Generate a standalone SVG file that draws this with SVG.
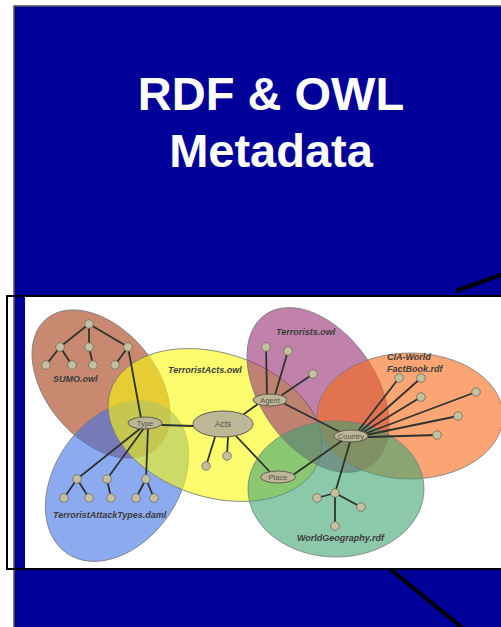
<svg xmlns="http://www.w3.org/2000/svg" width="501" height="627" viewBox="0 0 501 627">
<style>
.title{font-family:"Liberation Sans",Arial,sans-serif;font-weight:bold;font-size:47px;fill:#fff;text-anchor:middle}
.onto{stroke:#7a7a7a;stroke-width:0.8;fill-opacity:0.6}
.olab{font-family:"Liberation Sans",Arial,sans-serif;font-weight:bold;font-style:italic;font-size:9px;fill:#3c3c3c}
.edge{stroke:#2e332e;stroke-width:1.8;fill:none;stroke-linecap:round}
.leaf{fill:#c4bf9f;stroke:#6e6e5e;stroke-width:0.8}
.cls{fill:#bdb795;stroke:#5e5e50;stroke-width:1}
.clab{font-family:"Liberation Sans",Arial,sans-serif;font-size:7.5px;fill:#555;text-anchor:middle}
.thick{stroke:#000;stroke-width:4;fill:none}
</style>
<defs>
<clipPath id="img"><rect x="25" y="297" width="476" height="272"/></clipPath>
</defs>
<rect x="0" y="0" width="501" height="627" fill="#fff"/>
<g id="slide">
<rect x="14" y="6" width="500" height="640" fill="#000099" stroke="#555" stroke-width="1.5"/>
<text class="title" x="271" y="110">RDF &amp; OWL</text>
<text class="title" x="271" y="167">Metadata</text>
<line class="thick" x1="456" y1="291" x2="506" y2="273"/>
<line class="thick" x1="390" y1="569" x2="465" y2="630"/>
</g>
<g id="picture">
<rect x="7" y="296" width="500" height="273" fill="none" stroke="#000" stroke-width="2"/>
<rect x="25" y="297" width="476" height="271" fill="#fff"/>
<g clip-path="url(#img)">
<g id="sumo"><ellipse class="onto" cx="101" cy="384" rx="85" ry="55" transform="rotate(50 101 384)" fill="#a33a11"/><text class="olab" x="53" y="382">SUMO.owl</text></g>
<g id="tat"><ellipse class="onto" cx="117" cy="481" rx="88" ry="62" transform="rotate(-55 117 481)" fill="#3f71e6"/><text class="olab" x="53" y="518">TerroristAttackTypes.daml</text></g>
<g id="tacts"><ellipse class="onto" cx="215" cy="425" rx="110" ry="72" transform="rotate(18 215 425)" fill="#fafa0d"/><text class="olab" x="168" y="373">TerroristActs.owl</text></g>
<g id="terrorists"><ellipse class="onto" cx="318" cy="390" rx="92" ry="58" transform="rotate(55 318 390)" fill="#962f71"/><text class="olab" x="276" y="335">Terrorists.owl</text></g>
<g id="cia"><ellipse class="onto" cx="410" cy="416" rx="93" ry="63" fill="#f76916"/><text class="olab" x="387" y="360">CIA-World</text><text class="olab" x="387" y="372">FactBook.rdf</text></g>
<g id="wgeo"><ellipse class="onto" cx="336" cy="489" rx="88" ry="68" fill="#3fa371"/><text class="olab" x="297" y="541">WorldGeography.rdf</text></g>
<g id="connectors">
<path class="edge" d="M89 324L60 347M89 324L89 347M89 324L128 347M60 347L46 365M60 347L72 365M89 347L93 365M128 347L115 365M128 347L141 418"/>
<path class="edge" d="M141 428L77 479M144 428L107 479M148 428L146 479M77 479L64 498M77 479L89 498M107 479L111 498M146 479L136 498M146 479L154 498"/>
<path class="edge" d="M162 425L193 426M215 437L206 466M228 437L227 456M236 436L270 472M244 414L258 404"/>
<path class="edge" d="M267 395L266 347M275 395L288 351M282 395L313 374M285 404L342 433"/>
<path class="edge" d="M358 431L399 378M360 432L421 378M362 433L421 397M364 434L476 392M366 435L458 416M368 437L437 435"/>
<path class="edge" d="M343 440L293 475M350 442L335 493M335 493L317 498M335 493L361 507M335 493L335 526"/>
</g>
<g id="sumo-tree"><circle class="leaf" cx="89" cy="324" r="4.3"/><circle class="leaf" cx="60" cy="347" r="4.3"/><circle class="leaf" cx="89" cy="347" r="4.3"/><circle class="leaf" cx="128" cy="347" r="4.3"/><circle class="leaf" cx="46" cy="365" r="4.3"/><circle class="leaf" cx="72" cy="365" r="4.3"/><circle class="leaf" cx="93" cy="365" r="4.3"/><circle class="leaf" cx="115" cy="365" r="4.3"/></g>
<g id="tat-tree"><circle class="leaf" cx="77" cy="479" r="4.3"/><circle class="leaf" cx="107" cy="479" r="4.3"/><circle class="leaf" cx="146" cy="479" r="4.3"/><circle class="leaf" cx="64" cy="498" r="4.3"/><circle class="leaf" cx="89" cy="498" r="4.3"/><circle class="leaf" cx="111" cy="498" r="4.3"/><circle class="leaf" cx="136" cy="498" r="4.3"/><circle class="leaf" cx="154" cy="498" r="4.3"/></g>
<g id="acts-leaves"><circle class="leaf" cx="206" cy="466" r="4.3"/><circle class="leaf" cx="227" cy="456" r="4.3"/></g>
<g id="agent-leaves"><circle class="leaf" cx="266" cy="347" r="4.3"/><circle class="leaf" cx="288" cy="351" r="4.3"/><circle class="leaf" cx="313" cy="374" r="4.3"/></g>
<g id="cia-leaves"><circle class="leaf" cx="399" cy="378" r="4.3"/><circle class="leaf" cx="421" cy="378" r="4.3"/><circle class="leaf" cx="421" cy="397" r="4.3"/><circle class="leaf" cx="476" cy="392" r="4.3"/><circle class="leaf" cx="458" cy="416" r="4.3"/><circle class="leaf" cx="437" cy="435" r="4.3"/></g>
<g id="wgeo-tree"><circle class="leaf" cx="335" cy="493" r="4.3"/><circle class="leaf" cx="317" cy="498" r="4.3"/><circle class="leaf" cx="361" cy="507" r="4.3"/><circle class="leaf" cx="335" cy="526" r="4.3"/></g>
<g id="type"><ellipse class="cls" cx="145" cy="423" rx="17" ry="6"/><text class="clab" x="145" y="425.5">Type</text></g>
<g id="acts"><ellipse class="cls" cx="223" cy="424" rx="30" ry="13"/><text class="clab" x="223" y="427" style="font-size:8.5px">Acts</text></g>
<g id="agent"><ellipse class="cls" cx="270" cy="400" rx="17" ry="6"/><text class="clab" x="270" y="402.5">Agent</text></g>
<g id="place"><ellipse class="cls" cx="278" cy="477" rx="17.5" ry="6"/><text class="clab" x="278" y="479.5">Place</text></g>
<g id="country"><ellipse class="cls" cx="351" cy="436" rx="17" ry="6"/><text class="clab" x="351" y="438.5">Country</text></g>
</g>
</g>
</svg>
